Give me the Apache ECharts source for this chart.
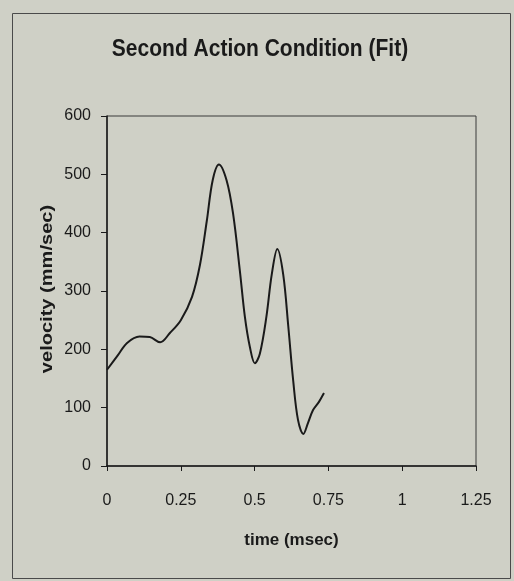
<!DOCTYPE html>
<html>
<head>
<meta charset="utf-8">
<script src="https://cdn.jsdelivr.net/npm/echarts@6/dist/echarts.min.js"></script>
<style>
html,body{margin:0;padding:0;background:#cfd0c6;}
#main{width:514px;height:581px;}
</style>
</head>
<body>
<div id="main"></div>
<script>
var titleText = 'Second Action Condition (Fit)';
var xAxisTitle = 'time (msec)';
var yAxisTitle = 'velocity (mm/sec)';
var xTicks = [0, 0.25, 0.5, 0.75, 1, 1.25];
var yTicks = [0, 100, 200, 300, 400, 500, 600];
var timeValues = [0, 0.037, 0.068, 0.11, 0.145, 0.18, 0.213, 0.25, 0.288, 0.315, 0.338, 0.358, 0.379, 0.405, 0.427, 0.45, 0.467, 0.484, 0.501, 0.518, 0.54, 0.558, 0.577, 0.597, 0.614, 0.631, 0.647, 0.665, 0.681, 0.698, 0.718, 0.735];
var velocityValues = [165, 190, 211, 222, 221, 212, 228, 250, 290, 345, 420, 490, 517, 490, 433, 335, 256, 204, 176, 193, 256, 328, 372, 328, 240, 145, 79, 55, 74, 96, 110, 125];

var seriesData = timeValues.map(function (t, i) { return [t, velocityValues[i]]; });

var chart = echarts.init(document.getElementById('main'), null, {renderer: 'canvas'});
var ink = '#1a1a1a';
chart.setOption({
  backgroundColor: '#cfd0c6',
  animation: false,
  grid: {left: 107, top: 116, width: 369, height: 350, show: true, borderColor: '#3a3a3a', borderWidth: 1, backgroundColor: 'transparent'},
  xAxis: {
    type: 'value', min: xTicks[0], max: xTicks[xTicks.length - 1], interval: 0.25,
    axisLine: {show: true, onZero: false, lineStyle: {color: ink, width: 1.5}},
    axisTick: {show: true, inside: false, length: 5, lineStyle: {color: ink}},
    splitLine: {show: false},
    axisLabel: {color: ink, fontFamily: 'Liberation Sans', fontSize: 16, margin: 27,
      formatter: function (v) { return String(v); }},
    name: xAxisTitle, nameLocation: 'middle', nameGap: 66,
    nameTextStyle: {color: ink, fontFamily: 'Liberation Sans', fontWeight: 'bold', fontSize: 17}
  },
  yAxis: {
    type: 'value', min: yTicks[0], max: yTicks[yTicks.length - 1], interval: 100,
    axisLine: {show: true, lineStyle: {color: ink, width: 1.5}},
    axisTick: {show: true, inside: false, length: 6, lineStyle: {color: ink}},
    splitLine: {show: false},
    axisLabel: {color: ink, fontFamily: 'Liberation Sans', fontSize: 16, margin: 16}
  },
  graphic: [
    {type: 'rect', left: 10, top: 11, shape: {x: 0, y: 0, width: 498, height: 565},
     style: {fill: 'none', stroke: '#4a4a4a', lineWidth: 1}, z: -1},
    {type: 'text', x: 260, y: 49, scaleY: 1.18,
     style: {text: titleText, font: 'bold 21px "Liberation Sans"', fill: ink, align: 'center', verticalAlign: 'middle'}},
    {type: 'text', x: 47, y: 289, rotation: Math.PI / 2, scaleX: 1.18,
     style: {text: yAxisTitle, font: 'bold 17px "Liberation Sans"', fill: ink, align: 'center', verticalAlign: 'middle'}}
  ],
  series: [{
    type: 'line', data: seriesData, smooth: 0.35, showSymbol: false,
    lineStyle: {color: ink, width: 2}
  }]
});
</script>
</body>
</html>
